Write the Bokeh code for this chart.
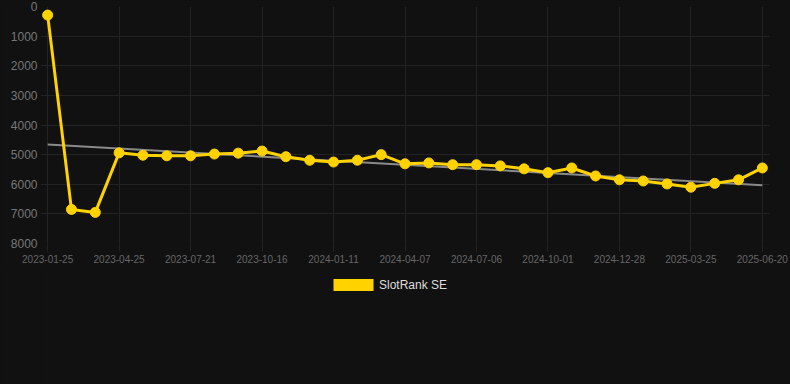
from bokeh.plotting import figure
from bokeh.layouts import column
from bokeh.models import Range1d, FixedTicker, Legend, LegendItem
from bokeh.embed import file_html
from bokeh.resources import INLINE

# ---- data ----
dates = [
    "2023-01-25", "2023-02-24", "2023-03-26", "2023-04-25", "2023-05-24",
    "2023-06-22", "2023-07-21", "2023-08-19", "2023-09-17", "2023-10-16",
    "2023-11-14", "2023-12-13", "2024-01-11", "2024-02-09", "2024-03-09",
    "2024-04-07", "2024-05-07", "2024-06-06", "2024-07-06", "2024-08-04",
    "2024-09-02", "2024-10-01", "2024-10-30", "2024-11-28", "2024-12-28",
    "2025-01-26", "2025-02-24", "2025-03-25", "2025-04-23", "2025-05-22",
    "2025-06-20",
]
ranks = [
    290, 6850, 6950, 4940, 5020, 5040, 5040, 4980, 4950, 4880,
    5070, 5190, 5250, 5190, 5000, 5310, 5280, 5340, 5340, 5380,
    5480, 5610, 5450, 5720, 5850, 5890, 5990, 6100, 5970, 5850,
    5450,
]
trend_values = [4655, 6030]
y_ticks = [0, 1000, 2000, 3000, 4000, 5000, 6000, 7000, 8000]
series_name = "SlotRank SE"
label_every = 3

idx = list(range(len(dates)))
x_ticks = idx[::label_every]
x_labels = {i: dates[i] for i in x_ticks}

BG = "#111111"
GRID = "#232323"
YELLOW = "#FFD200"
FONT = "Liberation Sans"

p = figure(
    width=790, height=270,
    x_range=Range1d(-0.3, len(dates) - 1 + 0.3),
    y_range=Range1d(8000, 0),
    output_backend="svg", toolbar_location=None,
    min_border_left=40, min_border_right=21,
    min_border_top=6, min_border_bottom=27,
)
p.background_fill_color = BG
p.border_fill_color = BG
p.outline_line_color = None

# grids
p.xgrid.ticker = FixedTicker(ticks=x_ticks)
p.ygrid.ticker = FixedTicker(ticks=y_ticks)
p.xgrid.grid_line_color = GRID
p.ygrid.grid_line_color = GRID

# x axis
xa = p.xaxis[0]
xa.ticker = FixedTicker(ticks=x_ticks)
xa.major_label_overrides = x_labels
xa.axis_line_color = None
xa.major_tick_line_color = GRID
xa.major_tick_out = 8
xa.major_tick_in = 0
xa.minor_tick_line_color = None
xa.major_label_standoff = 3
xa.major_label_text_font = FONT
xa.major_label_text_font_size = "10px"
xa.major_label_text_color = "#666666"

# y axis
ya = p.yaxis[0]
ya.ticker = FixedTicker(ticks=y_ticks)
ya.axis_line_color = None
ya.major_tick_line_color = None
ya.major_tick_out = 0
ya.major_tick_in = 0
ya.minor_tick_line_color = None
ya.major_label_standoff = 3
ya.major_label_text_font = FONT
ya.major_label_text_font_size = "12px"
ya.major_label_text_color = "#777777"

# trend line
p.line([idx[0], idx[-1]], trend_values, line_color="#8a8a8a", line_width=2)

# series
p.line(idx, ranks, line_color=YELLOW, line_width=3)
p.scatter(idx, ranks, size=10, fill_color=YELLOW, line_color=YELLOW)

# legend in a separate strip below
p2 = figure(
    width=790, height=114,
    x_range=Range1d(0, 1), y_range=Range1d(0, 1),
    x_axis_type=None, y_axis_type=None,
    output_backend="svg", toolbar_location=None,
    min_border_left=0, min_border_right=0,
    min_border_top=0, min_border_bottom=0,
)
p2.background_fill_color = BG
p2.border_fill_color = BG
p2.outline_line_color = None
p2.xgrid.visible = False
p2.ygrid.visible = False

# zero-area swatch renderer: only supplies the legend's colour box
swatch = p2.quad(left=[0], right=[0], top=[0], bottom=[0],
                 fill_color=YELLOW, line_color=None)
legend = Legend(
    items=[LegendItem(label=series_name, renderers=[swatch])],
    location=(288, 92),
    orientation="horizontal",
    glyph_width=50, glyph_height=15,
    label_height=12, label_standoff=1,
    label_text_font=FONT, label_text_font_size="12px",
    label_text_color="#dddddd",
    background_fill_alpha=0, border_line_alpha=0,
    padding=0, margin=0, spacing=0,
)
p2.add_layout(legend, "center")

layout = column(p, p2, spacing=0)

template = """
{% block preamble %}
<style>html, body { background: #111111; }</style>
{% endblock %}
"""

open("out.html", "w").write(file_html(layout, INLINE, template=template))
